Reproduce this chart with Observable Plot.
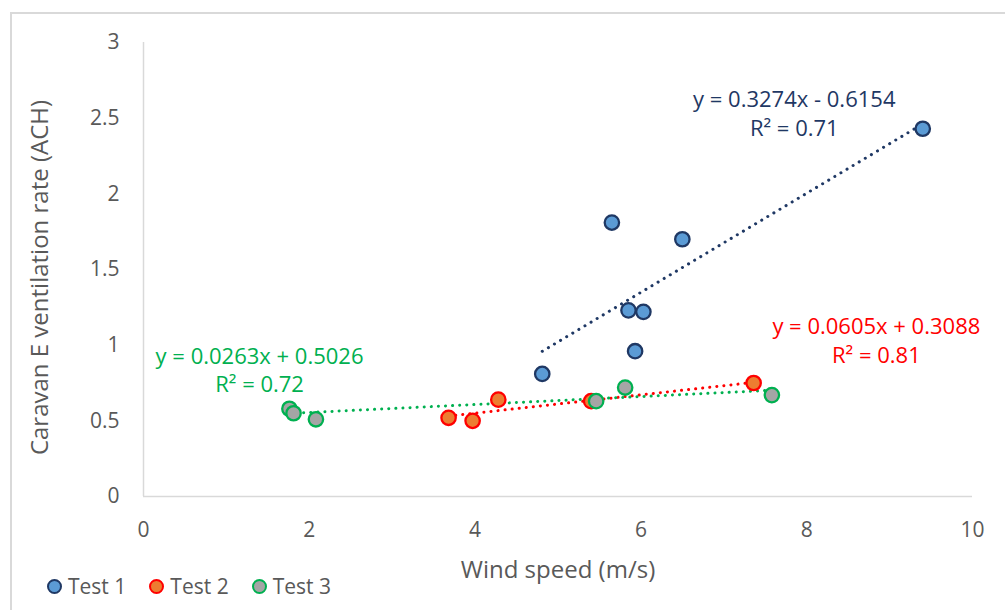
<!DOCTYPE html>
<html>
<head>
<meta charset="utf-8">
<script src="https://cdn.jsdelivr.net/npm/d3@7"></script>
<script src="https://cdn.jsdelivr.net/npm/@observablehq/plot@0.6"></script>
<style>
  html, body { margin: 0; padding: 0; background: #fff; overflow: hidden; }
  #wrap { position: relative; width: 1005px; height: 610px; overflow: hidden; font-family: "Open Sans", sans-serif; }
  #frame { position: absolute; left: 10px; top: 12px; width: 1100px; height: 700px; border: 2px solid #d9d9d9; box-sizing: border-box; }
  #chart { position: relative; }
  #chart svg { display: block; }
  #legend { position: relative; height: 48px; display: flex; align-items: center; padding-left: 47px; font-size: 21px; color: #595959; }
  .item { display: flex; align-items: center; margin-right: 23px; }
  .swatch { width: 11px; height: 11px; border-radius: 50%; border: 2.5px solid; margin-right: 6px; }
</style>
</head>
<body>
<div id="wrap">
  <div id="frame"></div>
  <div id="chart"></div>
  <div id="legend"></div>
</div>
<script>
// Wind speed (m/s) and ventilation rate (ACH) for each test
const test1Wind = [4.81, 5.65, 6.50, 5.85, 6.03, 5.93, 9.40];
const test1Ach  = [0.81, 1.81, 1.70, 1.23, 1.22, 0.96, 2.43];
const test2Wind = [3.68, 3.97, 4.28, 5.40, 7.36];
const test2Ach  = [0.52, 0.50, 0.64, 0.63, 0.75];
const test3Wind = [1.76, 1.81, 2.08, 5.46, 5.81, 7.58];
const test3Ach  = [0.58, 0.55, 0.51, 0.63, 0.72, 0.67];

const seriesNames = ["Test 1", "Test 2", "Test 3"];

// Linear trendline coefficients and goodness of fit
const slopes     = [0.3274, 0.0605, 0.0263];
const intercepts = [-0.6154, 0.3088, 0.5026];
const rSquared   = [0.71, 0.81, 0.72];

const xTicks = [0, 2, 4, 6, 8, 10];
const yTicks = [0, 0.5, 1, 1.5, 2, 2.5, 3];
const yTickLabels = ["0", "0.5", "1", "1.5", "2", "2.5", "3"];

const markerFill   = ["#5B9BD5", "#ED7D31", "#A5A5A5"];
const markerStroke = ["#1F3864", "#FF0000", "#00B050"];
const textColor = "#595959";
const axisColor = "#d9d9d9";

const series = [
  {wind: test1Wind, ach: test1Ach},
  {wind: test2Wind, ach: test2Ach},
  {wind: test3Wind, ach: test3Ach}
];

const points = series.map((s, i) =>
  s.wind.map((w, j) => ({name: seriesNames[i], wind: w, ach: s.ach[j]})));

// Trendline drawn across each series' own wind speed range
const trends = series.map((s, i) => {
  const [lo, hi] = d3.extent(s.wind);
  return [lo, hi].map(w => ({wind: w, ach: slopes[i] * w + intercepts[i]}));
});

const f4 = d3.format(".4f"), f2 = d3.format(".2f");
const equation = i =>
  `y = ${f4(slopes[i])}x ${intercepts[i] < 0 ? "-" : "+"} ${f4(Math.abs(intercepts[i]))}`;
const r2Text = i => `R\u00B2 = ${f2(rSquared[i])}`;

// Where each equation block sits, in chart units
const labelAt = [
  {wind: 7.85, ach: 2.62},
  {wind: 8.84, ach: 1.12},
  {wind: 1.40, ach: 0.925}
];
const labels = labelAt.flatMap((p, i) => [
  {wind: p.wind, ach: p.ach, text: equation(i), color: markerStroke[i]},
  {wind: p.wind, ach: p.ach - 0.19, text: r2Text(i), color: markerStroke[i]}
]);

const chart = Plot.plot({
  width: 1005,
  height: 562,
  marginLeft: 143,
  marginRight: 33,
  marginTop: 42,
  marginBottom: 66,
  style: {fontFamily: "'Open Sans', sans-serif", color: textColor, background: "transparent", overflow: "visible"},
  x: {domain: [0, 10]},
  y: {domain: [0, 3]},
  marks: [
    Plot.ruleY([0], {stroke: axisColor, strokeWidth: 1.5}),
    Plot.ruleX([0], {stroke: axisColor, strokeWidth: 1.5}),
    Plot.axisX({ticks: xTicks, tickSize: 0, tickPadding: 26, fontSize: 21, label: null, fill: textColor}),
    Plot.axisY({ticks: yTicks, tickSize: 0, tickPadding: 24, fontSize: 21, label: null, fill: textColor,
      tickFormat: (d) => yTickLabels[yTicks.indexOf(d)]}),
    Plot.text(["Wind speed (m/s)"], {frameAnchor: "bottom", dy: 74, fontSize: 24, fill: textColor, textAnchor: "middle", lineAnchor: "middle"}),
    Plot.text(["Caravan E ventilation rate (ACH)"], {frameAnchor: "left", rotate: -90, dx: -103, dy: 8, fontSize: 24, fill: textColor, textAnchor: "middle", lineAnchor: "middle"}),
    ...trends.map((t, i) => Plot.line(t, {
      x: "wind", y: "ach", stroke: markerStroke[i], strokeWidth: 3,
      strokeDasharray: "0.1,7", strokeLinecap: "round"
    })),
    ...points.map((p, i) => Plot.dot(p, {
      x: "wind", y: "ach", r: 7.2, fill: markerFill[i], stroke: markerStroke[i], strokeWidth: 2.3
    })),
    Plot.text(labels, {x: "wind", y: "ach", text: "text", fill: "color", fontSize: 22, textAnchor: "middle", lineAnchor: "middle"})
  ]
});
document.getElementById("chart").appendChild(chart);

// Legend below the chart
const legend = d3.select("#legend");
seriesNames.forEach((name, i) => {
  const item = legend.append("div").attr("class", "item");
  item.append("span").attr("class", "swatch")
    .style("background", markerFill[i]).style("border-color", markerStroke[i]);
  item.append("span").text(name);
});
</script>
</body>
</html>
